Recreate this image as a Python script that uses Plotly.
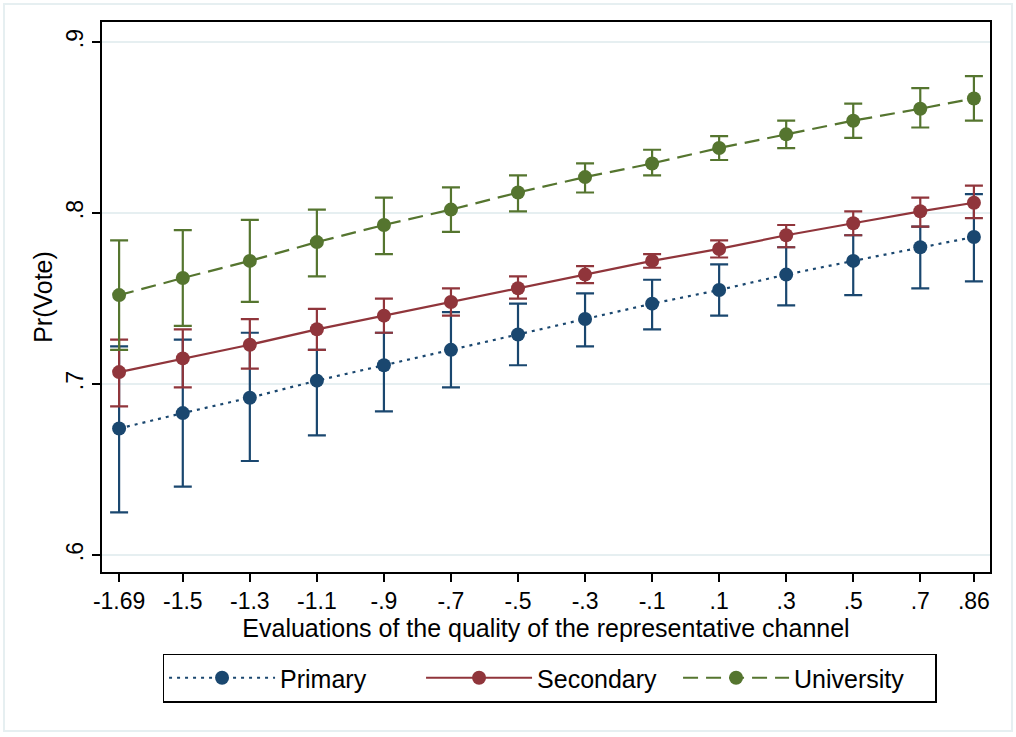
import plotly.graph_objects as go

x_vals = [-1.69, -1.5, -1.3, -1.1, -0.9, -0.7, -0.5, -0.3, -0.1, 0.1, 0.3, 0.5, 0.7, 0.86]
x_labels = ["-1.69", "-1.5", "-1.3", "-1.1", "-.9", "-.7", "-.5", "-.3", "-.1", ".1", ".3", ".5", ".7", ".86"]

primary = [0.674, 0.683, 0.692, 0.702, 0.711, 0.720, 0.729, 0.738, 0.747, 0.755, 0.764, 0.772, 0.780, 0.786]
primary_lo = [0.625, 0.640, 0.655, 0.670, 0.684, 0.698, 0.711, 0.722, 0.732, 0.740, 0.746, 0.752, 0.756, 0.760]
primary_hi = [0.722, 0.726, 0.730, 0.720, 0.730, 0.742, 0.747, 0.753, 0.761, 0.770, 0.780, 0.787, 0.792, 0.811]

secondary = [0.707, 0.715, 0.723, 0.732, 0.740, 0.748, 0.756, 0.764, 0.772, 0.779, 0.787, 0.794, 0.801, 0.806]
secondary_lo = [0.687, 0.698, 0.709, 0.720, 0.730, 0.740, 0.750, 0.759, 0.768, 0.774, 0.780, 0.787, 0.792, 0.797]
secondary_hi = [0.726, 0.732, 0.738, 0.744, 0.750, 0.756, 0.763, 0.769, 0.776, 0.784, 0.793, 0.801, 0.809, 0.816]

university = [0.752, 0.762, 0.772, 0.783, 0.793, 0.802, 0.812, 0.821, 0.829, 0.838, 0.846, 0.854, 0.861, 0.867]
university_lo = [0.720, 0.734, 0.748, 0.763, 0.776, 0.789, 0.801, 0.812, 0.822, 0.831, 0.838, 0.844, 0.850, 0.854]
university_hi = [0.784, 0.790, 0.796, 0.802, 0.809, 0.815, 0.822, 0.829, 0.837, 0.845, 0.854, 0.864, 0.873, 0.880]

y_ticks = [0.6, 0.7, 0.8, 0.9]
y_labels = [".6", ".7", ".8", ".9"]

series = [
    ("Primary", primary, primary_lo, primary_hi, "#1a476f", "3px,5px"),
    ("Secondary", secondary, secondary_lo, secondary_hi, "#90353b", "solid"),
    ("University", university, university_lo, university_hi, "#55752f", "15px,8px"),
]

fig = go.Figure()
for name, y, lo, hi, color, dash in series:
    fig.add_trace(go.Scatter(
        x=x_vals, y=y, name=name, mode="lines+markers",
        line=dict(color=color, width=2.2, dash=dash),
        marker=dict(color=color, size=14, symbol="circle"),
        error_y=dict(type="data", symmetric=False,
                     array=[h - v for h, v in zip(hi, y)],
                     arrayminus=[v - l for v, l in zip(y, lo)],
                     color=color, thickness=2.2, width=9),
    ))

W, H = 1016, 737
L, R, T, B = 102, 990, 22, 572

def px(xp):
    return (xp - L) / (R - L)

def py(yp):
    return (B - yp) / (B - T)

font = "Liberation Sans, Arial, Helvetica, sans-serif"

fig.update_layout(
    width=W, height=H,
    margin=dict(l=L, r=W - R, t=T, b=H - B),
    paper_bgcolor="white", plot_bgcolor="white",
    font=dict(family=font, color="black", size=23),
    showlegend=True,
    legend=dict(
        orientation="h", x=0.504, xanchor="center", y=py(678), yanchor="middle",
        bordercolor="black", borderwidth=1.5, bgcolor="white",
        font=dict(size=25, family=font), itemwidth=106,
        traceorder="normal",
        entrywidth=136, entrywidthmode="pixels",
    ),
    xaxis=dict(
        range=[-1.741, 0.908], tickmode="array", tickvals=x_vals, ticktext=x_labels,
        ticks="outside", ticklen=8, tickwidth=1.5, tickcolor="black",
        showline=True, linecolor="black", linewidth=1.5, mirror=True,
        showgrid=False, zeroline=False,
        tickfont=dict(size=23),
        title=dict(text="Evaluations of the quality of the representative channel",
                   font=dict(size=25), standoff=2),
    ),
    yaxis=dict(
        range=[0.5901, 0.9117], tickmode="array", tickvals=y_ticks, ticktext=y_labels,
        ticks="outside", ticklen=8, tickwidth=1.5, tickcolor="black",
        tickangle=-90,
        showline=True, linecolor="black", linewidth=1.5, mirror=True,
        showgrid=True, gridcolor="#e6eff1", gridwidth=2, zeroline=False,
        tickfont=dict(size=23),
        title=dict(text="Pr(Vote)", font=dict(size=25), standoff=2),
    ),
    shapes=[dict(type="rect", xref="paper", yref="paper",
                 x0=px(4), x1=px(1012), y0=py(731), y1=py(4),
                 line=dict(color="#e6eff1", width=2), fillcolor="rgba(0,0,0,0)",
                 layer="below")],
)

fig.write_html("out.html", config={"displayModeBar": False},
               post_script="document.body.style.margin='0';")
